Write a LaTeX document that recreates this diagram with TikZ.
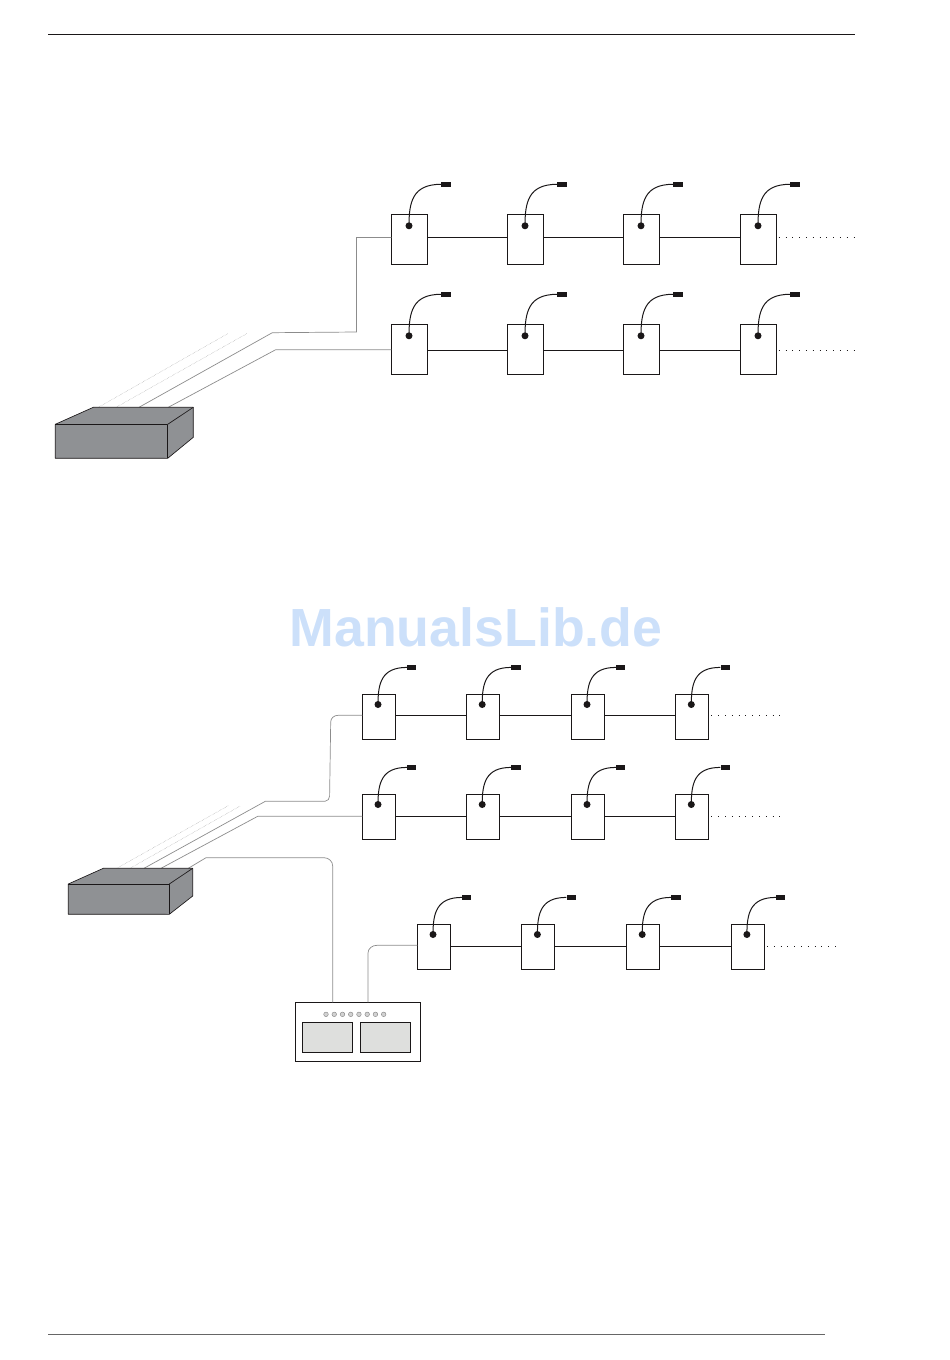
\documentclass[tikz,border=0pt]{standalone}
\usepackage{fontspec}
\setsansfont{Liberation Sans}
\usetikzlibrary{positioning}

\definecolor{boxgrey}{HTML}{8F9194}
\definecolor{screengrey}{HTML}{DEDFDD}
\definecolor{wmblue}{HTML}{CCE0FA}
\definecolor{inkblack}{HTML}{1A1718}

\tikzset{
  wire/.style={draw=gray!90, line width=0.7pt},
  faint/.style={draw=gray!85, line width=0.4pt, densely dotted},
  bus/.style={draw=inkblack, line width=0.75pt},
  tail/.style={draw=inkblack, line width=0.6pt, dash pattern=on 0.9pt off 5.9pt},
  station/.style={draw=inkblack, line width=0.65pt, fill=white, inner sep=0pt, outer sep=0pt, anchor=north west},
  bigstation/.style={station, minimum width=36.4, minimum height=50},
  smallstation/.style={station, minimum width=32.8, minimum height=45},
  mic/.style={circle, fill=inkblack, inner sep=0pt, minimum size=7},
  plug/.style={fill=inkblack, inner sep=0pt, anchor=west},
  bigplug/.style={plug, minimum width=10, minimum height=4.8},
  smallplug/.style={plug, minimum width=9.2, minimum height=4.8},
  gooseneck/.style={draw=inkblack, line width=1pt},
  unit/.style={draw=inkblack, line width=0.65pt, fill=boxgrey, line join=round},
  screen/.style={draw=inkblack, line width=0.65pt, fill=screengrey, inner sep=0pt, outer sep=0pt, anchor=north west, minimum width=50.4, minimum height=30},
  led/.style={circle, draw=gray, line width=0.4pt, fill=gray!35, inner sep=0pt, minimum size=4.6},
  rule/.style={draw=inkblack, line width=0.75pt}
}

\begin{document}
\begin{tikzpicture}[x=1pt,y=-1pt]
\useasboundingbox (0,0) rectangle (950,1360);

\coordinate (ruletopl) at (48,34.5);
\coordinate (ruletopr) at (855,34.5);
\coordinate (rulebotl) at (48,1334.5);
\coordinate (rulebotr) at (825,1334.5);
\draw[rule] (ruletopl) -- (ruletopr);
\draw[rule,draw=gray!80!black,line width=1.3pt] (rulebotl) -- (rulebotr);

\node[text=wmblue, font=\sffamily\bfseries\fontsize{53.7}{54}\selectfont, inner sep=0pt] (wmark) at (476,627) {ManualsLib.de};

% upper system
\foreach \r/\y in {a/214.3,b/324.3} {
  \foreach \c/\x in {1/391.3,2/507.3,3/623.3,4/740.3} {
    \node[bigstation] (\r\c) at (\x,\y) {};
    \node[mic] (\r\c m) at (\x+17.7,\y+11.5) {};
    \node[bigplug] (\r\c p) at (\x+49.7,\y-30) {};
    \draw[gooseneck] (\r\c m.center) .. controls (\x+17.7,\y-12) and (\x+21,\y-30) .. (\r\c p.west);
  }
}
\foreach \r/\y in {a/237.5,b/350.5} {
  \foreach \c/\n in {1/2,2/3,3/4} {
    \draw[bus] (\r\c.east |- 0,\y) -- (\r\n.west |- 0,\y);
  }
  \coordinate (\r end) at (857,\y);
  \draw[tail] (\r4.east |- 0,\y) ++(2,0) -- (\r end);
}

\coordinate (unitaTL) at (55.3,424.3);
\coordinate (unitaTR) at (167.7,424.3);
\coordinate (unitaBL) at (55.3,458.3);
\coordinate (unitaBR) at (167.7,458.3);
\coordinate (unitaBK) at (93.3,407.3);
\coordinate (unitaBQ) at (193.3,407.3);
\coordinate (unitaSD) at (193.3,437.3);

\coordinate (fadeaa) at (228,333.5);
\coordinate (fadeab) at (247,333.5);
\draw[faint] (98.3,407.3) -- (fadeaa);
\draw[faint] (116,407.3) -- (fadeab);
\draw[wire] (139,407.3) -- (272.3,332.7) -- (356.4,332) -- (356.4,237.4) -- (a1.west |- 0,237.4);
\draw[wire] (168.3,407.3) -- (275.7,349.7) -- (b1.west |- 0,349.7);

\draw[unit] (unitaTL) -- (unitaBK) -- (unitaBQ) -- (unitaSD) -- (unitaBR) -- (unitaBL) -- cycle;
\draw[unit] (unitaTL) -- (unitaTR) -- (unitaBR);
\draw[unit] (unitaTR) -- (unitaBQ);

% lower system
\foreach \r/\y/\s in {c/694.3/{1/362.3,2/466.5,3/571.3,4/675.6},d/794.3/{1/362.3,2/466.5,3/571.3,4/675.6},e/924.3/{1/417.3,2/521.7,3/626.5,4/731.2}} {
  \foreach \c/\x in \s {
    \node[smallstation] (\r\c) at (\x,\y) {};
    \node[mic] (\r\c m) at (\x+15.7,\y+10.2) {};
    \node[smallplug] (\r\c p) at (\x+44.7,\y-26.9) {};
    \draw[gooseneck] (\r\c m.center) .. controls (\x+15.7,\y-11) and (\x+19,\y-26.9) .. (\r\c p.west);
  }
}
\foreach \r/\y/\e in {c/715.5/782,d/816.5/782,e/946/838} {
  \foreach \c/\n in {1/2,2/3,3/4} {
    \draw[bus] (\r\c.east |- 0,\y) -- (\r\n.west |- 0,\y);
  }
  \coordinate (\r end) at (\e,\y);
  \draw[tail] (\r4.east |- 0,\y) ++(3,0) -- (\r end);
}

\node[station, minimum width=125, minimum height=59.4] (panel) at (295.3,1002.3) {};
\node[screen] (scrl) at (302.3,1022.3) {};
\node[screen] (scrr) at (360.3,1022.3) {};
\foreach \i in {0,...,7} {
  \node[led] (led\i) at (326+\i*8.24,1014.3) {};
}

\coordinate (unitbTL) at (68.3,884);
\coordinate (unitbTR) at (169.3,884);
\coordinate (unitbBL) at (68.3,914.3);
\coordinate (unitbBR) at (169.3,914.3);
\coordinate (unitbBK) at (103.3,868.3);
\coordinate (unitbBQ) at (192.7,868.3);
\coordinate (unitbSD) at (192.7,896);

\coordinate (fadeba) at (228.3,805.7);
\coordinate (fadebb) at (240.7,805.7);
\draw[faint] (116.7,868.3) -- (fadeba);
\draw[faint] (130,868.3) -- (fadebb);
\draw[wire] (144,868.3) -- (265.3,801.3) -- (325,801.3) to[out=0,in=-90] (329.6,796) -- (330.7,722) to[out=90,in=180] (338,715.3) -- (c1.west |- 0,715.3);
\draw[wire] (161,868.3) -- (257.7,816.3) -- (d1.west |- 0,816.3);
\draw[wire] (188.3,868.3) -- (206,857.7) -- (324,857.7) to[out=0,in=90] (332.7,866) -- (panel.north west -| 332.7,0);
\draw[wire] (panel.north west -| 368,0) -- (368,953) to[out=90,in=180] (377,945.3) -- (e1.west |- 0,945.3);

\draw[unit] (unitbTL) -- (unitbBK) -- (unitbBQ) -- (unitbSD) -- (unitbBR) -- (unitbBL) -- cycle;
\draw[unit] (unitbTL) -- (unitbTR) -- (unitbBR);
\draw[unit] (unitbTR) -- (unitbBQ);
\end{tikzpicture}
\end{document}
